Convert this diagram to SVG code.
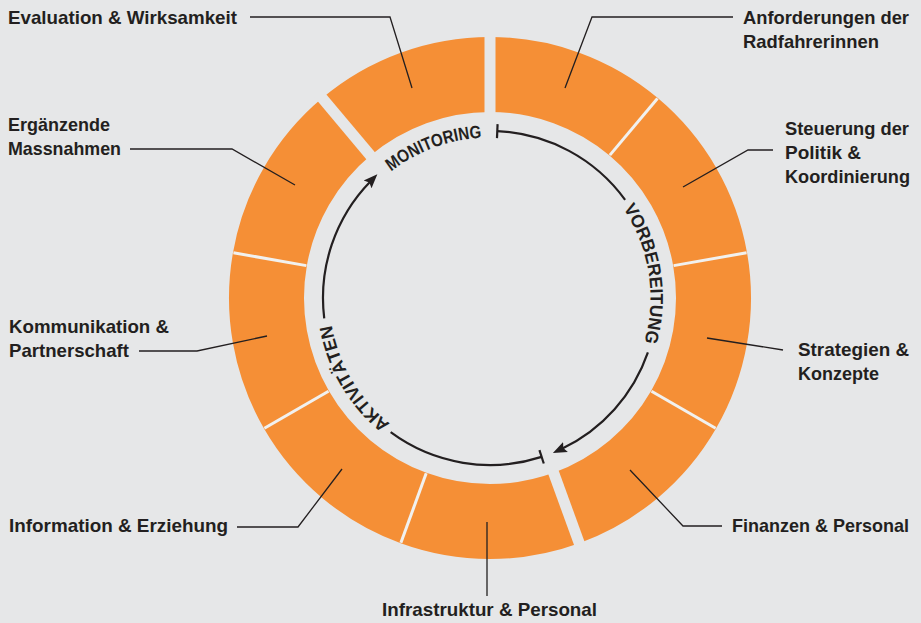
<svg xmlns="http://www.w3.org/2000/svg" xmlns:xlink="http://www.w3.org/1999/xlink" width="921" height="623" viewBox="0 0 921 623">
<style>
.bg{fill:#e6e7e8}
.seg{fill:#f58f36}
.thin{stroke:#f1f1ef;stroke-width:3;fill:none}
.thick{stroke:#e6e7e8;stroke-width:11;fill:none}
.lead{stroke:#231f20;stroke-width:1.3;fill:none}
.cyc{stroke:#231f20;stroke-width:2.2;fill:none}
.lbl{font-family:"Liberation Sans","DejaVu Sans Condensed","DejaVu Sans",sans-serif;font-weight:bold;font-size:19px;fill:#231f20}
.ring{font-family:"Liberation Sans","DejaVu Sans Condensed","DejaVu Sans",sans-serif;font-weight:bold;font-size:18px;fill:#231f20}
</style>
<defs>
<marker id="arr" markerUnits="userSpaceOnUse" markerWidth="16" markerHeight="14" viewBox="0 0 16 14" refX="4" refY="7" orient="auto">
<path d="M0,1.5 L14,7 L0,12.5 L2.5,7 Z" fill="#231f20"/>
</marker>
<path id="pMon" d="M391.19,171.52 A160.5,160.5 0 0 1 481.60,137.72"/>
<path id="pVor" d="M623.06,208.25 A160.5,160.5 0 0 1 644.28,342.24"/>
<path id="pAkt" d="M390.09,423.61 A160.5,160.5 0 0 1 331.70,324.49"/>
</defs>
<rect class="bg" x="0" y="0" width="921" height="623"/>

<g id="seg-anforderungen"><path class="seg" d="M490,37 A261,261 0 0 1 657.77,98.06 L609.56,155.52 A186,186 0 0 0 490,112 Z"/></g>
<g id="seg-steuerung"><path class="seg" d="M657.77,98.06 A261,261 0 0 1 747.04,252.68 L673.17,265.70 A186,186 0 0 0 609.56,155.52 Z"/></g>
<g id="seg-strategien"><path class="seg" d="M747.04,252.68 A261,261 0 0 1 716.03,428.5 L651.08,391 A186,186 0 0 0 673.17,265.70 Z"/></g>
<g id="seg-finanzen"><path class="seg" d="M716.03,428.5 A261,261 0 0 1 579.27,543.26 L553.62,472.78 A186,186 0 0 0 651.08,391 Z"/></g>
<g id="seg-infrastruktur"><path class="seg" d="M579.27,543.26 A261,261 0 0 1 400.73,543.26 L426.38,472.78 A186,186 0 0 0 553.62,472.78 Z"/></g>
<g id="seg-information"><path class="seg" d="M400.73,543.26 A261,261 0 0 1 263.97,428.5 L328.92,391 A186,186 0 0 0 426.38,472.78 Z"/></g>
<g id="seg-kommunikation"><path class="seg" d="M263.97,428.5 A261,261 0 0 1 232.96,252.68 L306.83,265.70 A186,186 0 0 0 328.92,391 Z"/></g>
<g id="seg-ergaenzende"><path class="seg" d="M232.96,252.68 A261,261 0 0 1 322.23,98.06 L370.44,155.52 A186,186 0 0 0 306.83,265.70 Z"/></g>
<g id="seg-evaluation"><path class="seg" d="M322.23,98.06 A261,261 0 0 1 490,37 L490,112 A186,186 0 0 0 370.44,155.52 Z"/></g>

<g id="dividers">
<line class="thick" x1="490" y1="118" x2="490" y2="30"/>
<line class="thick" x1="551.56" y1="467.15" x2="581.66" y2="549.84"/>
<line class="thick" x1="374.30" y1="160.11" x2="317.73" y2="92.70"/>
<line class="thin" x1="609.88" y1="155.13" x2="657.45" y2="98.44"/>
<line class="thin" x1="673.66" y1="265.61" x2="746.55" y2="252.77"/>
<line class="thin" x1="651.51" y1="391.25" x2="715.60" y2="428.25"/>
<line class="thin" x1="426.21" y1="473.25" x2="400.90" y2="542.79"/>
<line class="thin" x1="328.49" y1="391.25" x2="264.40" y2="428.25"/>
<line class="thin" x1="306.34" y1="265.61" x2="233.45" y2="252.77"/>
</g>

<g id="connectors">
<path class="lead" d="M250,17 H390 L412,88"/>
<path class="lead" d="M130,149 H232 L295,185"/>
<path class="lead" d="M733,17 H592 L565,88"/>
<path class="lead" d="M773,150 H748 L683,187"/>
<path class="lead" d="M139,351 H197 L267,336"/>
<path class="lead" d="M237,527 H298 L342,469"/>
<path class="lead" d="M783,350 L707,338"/>
<path class="lead" d="M722,526 H683 L630,470"/>
<path class="lead" d="M487,522 V596"/>
<path class="cyc" d="M497.28,131.16 A167,167 0 0 1 625.11,199.84"/>
<path class="cyc" d="M647.90,352.37 A167,167 0 0 1 561.90,448.73" marker-end="url(#arr)"/>
<path class="cyc" d="M541.61,456.83 A167,167 0 0 1 390.66,432.24"/>
<path class="cyc" d="M324.24,318.35 A167,167 0 0 1 370.38,181.47" marker-end="url(#arr)"/>
<line class="cyc" x1="496.98" y1="138.15" x2="497.59" y2="124.17"/>
<line class="cyc" x1="539.44" y1="450.17" x2="543.77" y2="463.48"/>
</g>

<g id="phase-monitoring"><text class="ring"><textPath xlink:href="#pMon" href="#pMon" textLength="98" lengthAdjust="spacingAndGlyphs">MONITORING</textPath></text></g>
<g id="phase-vorbereitung"><text class="ring"><textPath xlink:href="#pVor" href="#pVor" textLength="140" lengthAdjust="spacingAndGlyphs">VORBEREITUNG</textPath></text></g>
<g id="phase-aktivitaeten"><text class="ring"><textPath xlink:href="#pAkt" href="#pAkt" textLength="117" lengthAdjust="spacingAndGlyphs">AKTIVITÄTEN</textPath></text></g>

<g id="label-evaluation"><text class="lbl" x="8" y="24" textLength="229" lengthAdjust="spacingAndGlyphs">Evaluation &amp; Wirksamkeit</text></g>
<g id="label-ergaenzende">
<text class="lbl" x="8" y="131" textLength="102" lengthAdjust="spacingAndGlyphs">Ergänzende</text>
<text class="lbl" x="8" y="155" textLength="113" lengthAdjust="spacingAndGlyphs">Massnahmen</text>
</g>
<g id="label-anforderungen">
<text class="lbl" x="743" y="24" textLength="166" lengthAdjust="spacingAndGlyphs">Anforderungen der</text>
<text class="lbl" x="743" y="48" textLength="136" lengthAdjust="spacingAndGlyphs">Radfahrerinnen</text>
</g>
<g id="label-steuerung">
<text class="lbl" x="785" y="135" textLength="124" lengthAdjust="spacingAndGlyphs">Steuerung der</text>
<text class="lbl" x="785" y="159" textLength="76" lengthAdjust="spacingAndGlyphs">Politik &amp;</text>
<text class="lbl" x="785" y="183" textLength="125" lengthAdjust="spacingAndGlyphs">Koordinierung</text>
</g>
<g id="label-kommunikation">
<text class="lbl" x="9" y="333" textLength="160" lengthAdjust="spacingAndGlyphs">Kommunikation &amp;</text>
<text class="lbl" x="9" y="357" textLength="120" lengthAdjust="spacingAndGlyphs">Partnerschaft</text>
</g>
<g id="label-information"><text class="lbl" x="9" y="532" textLength="219" lengthAdjust="spacingAndGlyphs">Information &amp; Erziehung</text></g>
<g id="label-strategien">
<text class="lbl" x="798" y="356" textLength="111" lengthAdjust="spacingAndGlyphs">Strategien &amp;</text>
<text class="lbl" x="798" y="380" textLength="81" lengthAdjust="spacingAndGlyphs">Konzepte</text>
</g>
<g id="label-finanzen"><text class="lbl" x="732" y="532" textLength="177" lengthAdjust="spacingAndGlyphs">Finanzen &amp; Personal</text></g>
<g id="label-infrastruktur"><text class="lbl" x="382" y="616" textLength="215" lengthAdjust="spacingAndGlyphs">Infrastruktur &amp; Personal</text></g>
</svg>
